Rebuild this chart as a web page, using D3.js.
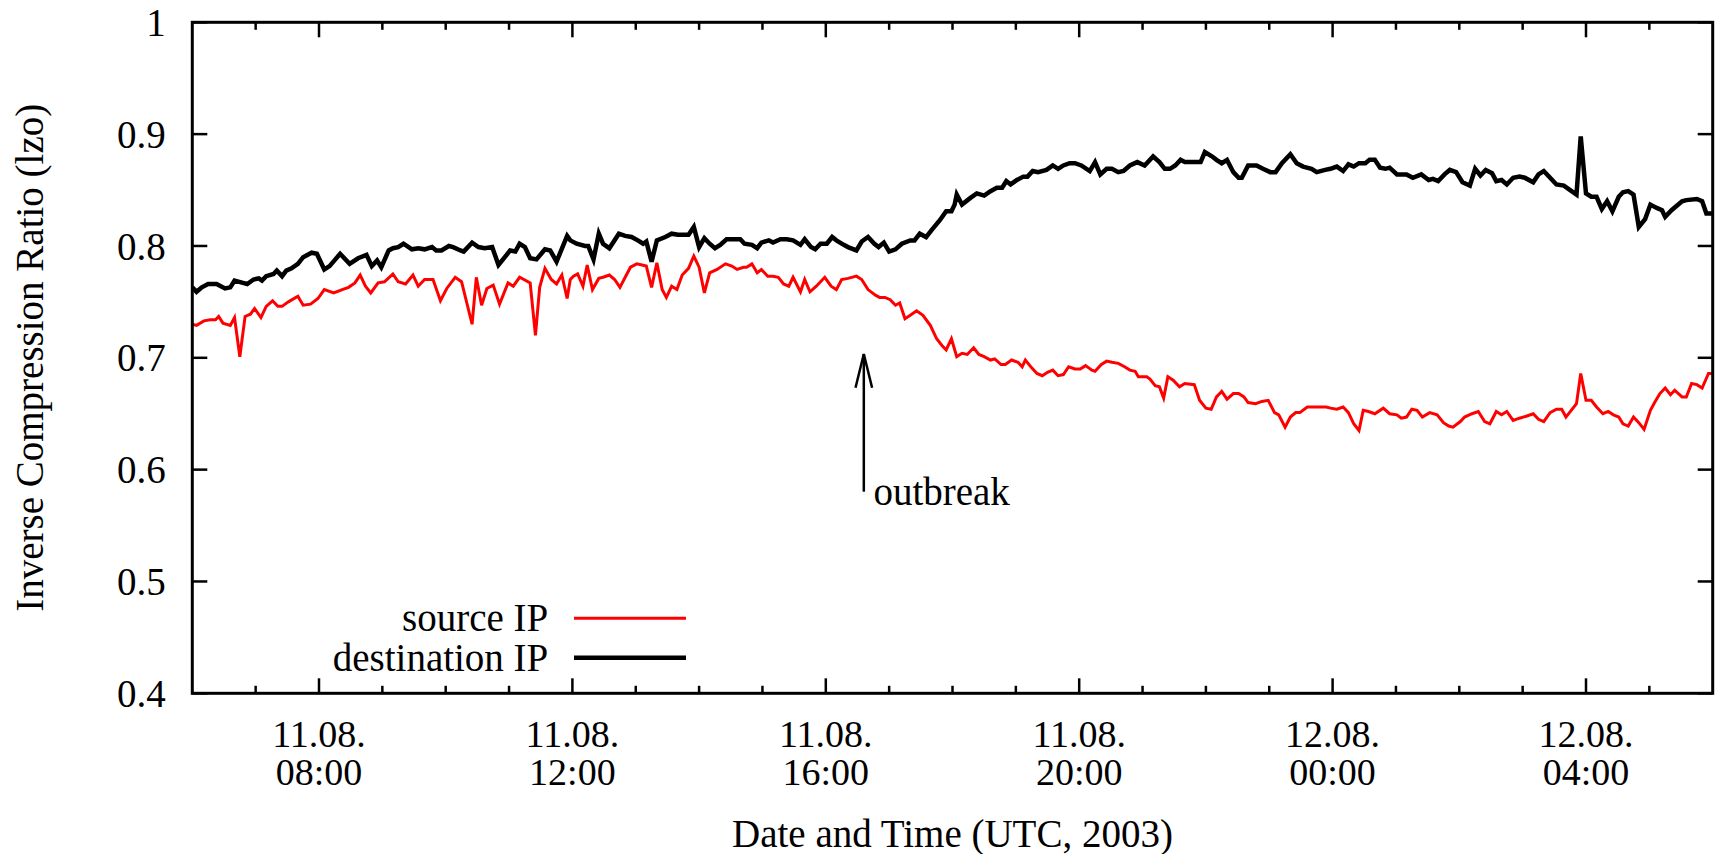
<!DOCTYPE html>
<html>
<head>
<meta charset="utf-8">
<script src="https://cdn.jsdelivr.net/npm/d3@7"></script>
<style>
  body { margin: 0; background: #fff; }
  text { font-family: "Liberation Serif", "Times New Roman", serif; fill: #000; }
</style>
</head>
<body>
<script>
// time axis: minutes after 11.08.2003 06:00 UTC
const startTime = Date.UTC(2003, 7, 11, 6, 0);
const endTime = Date.UTC(2003, 7, 12, 6, 0);

const yTicks = [0.4, 0.5, 0.6, 0.7, 0.8, 0.9, 1];
const seriesNames = ["source IP", "destination IP"];
const seriesColors = ["#ff0000", "#000000"];

const outbreakMin = 636;
const outbreakLabel = "outbreak";

const srcMin = [0,4,11,17,22,25,29,36,40,45,50,55,59,65,70,76,81,85,91,100,105,112,119,125,134,142,148,154,159,164,169,176,182,190,195,202,209,214,220,228,235,241,249,255,265,269,274,279,285,291,299,304,310,320,325,329,334,340,345,350,355,358,361,365,370,374,379,385,389,395,400,405,410,415,421,426,430,435,440,445,449,454,459,464,470,475,480,485,490,497,505,511,516,522,525,530,535,539,545,550,555,560,565,569,576,580,585,591,599,605,610,615,621,629,634,640,647,651,656,661,666,670,675,680,686,692,699,705,710,714,719,724,729,734,740,745,750,756,760,766,770,776,782,786,789,795,800,805,810,815,820,825,830,836,841,846,852,855,861,866,871,877,883,888,893,896,904,907,912,916,920,924,929,935,940,949,954,960,965,970,975,980,986,991,996,1000,1007,1013,1019,1025,1029,1035,1040,1045,1049,1056,1063,1070,1074,1078,1084,1090,1095,1100,1105,1109,1114,1120,1128,1134,1141,1145,1150,1155,1160,1165,1172,1179,1185,1190,1194,1201,1205,1212,1218,1224,1229,1235,1240,1245,1251,1257,1264,1270,1275,1280,1286,1292,1297,1301,1306,1311,1315,1320,1325,1330,1336,1341,1346,1351,1355,1360,1365,1370,1375,1381,1385,1390,1395,1400,1404,1411,1415,1420,1425,1430,1436,1440];
const srcVal = [.730,.729,.733,.734,.734,.737,.731,.729,.736,.701,.737,.739,.744,.736,.746,.751,.746,.746,.750,.755,.747,.748,.753,.761,.758,.761,.763,.767,.774,.764,.758,.767,.768,.775,.768,.766,.774,.764,.770,.770,.751,.762,.772,.768,.730,.772,.747,.762,.765,.748,.767,.764,.772,.767,.720,.763,.780,.770,.766,.774,.753,.770,.773,.775,.764,.783,.761,.771,.772,.774,.770,.763,.772,.781,.784,.783,.782,.763,.785,.761,.754,.764,.761,.774,.780,.791,.781,.758,.776,.779,.784,.782,.779,.781,.781,.784,.776,.779,.773,.773,.772,.766,.764,.772,.759,.770,.759,.764,.772,.764,.761,.770,.771,.773,.770,.761,.756,.754,.754,.752,.747,.749,.735,.738,.742,.738,.729,.717,.711,.707,.717,.701,.704,.703,.709,.703,.701,.698,.699,.694,.694,.698,.696,.692,.698,.691,.686,.684,.687,.689,.684,.685,.692,.690,.690,.693,.689,.688,.694,.697,.696,.695,.692,.689,.688,.683,.683,.681,.675,.674,.664,.683,.680,.674,.677,.676,.662,.655,.654,.665,.670,.663,.668,.668,.665,.660,.659,.661,.662,.651,.649,.638,.647,.651,.651,.656,.656,.656,.656,.655,.654,.656,.651,.641,.635,.653,.652,.650,.655,.650,.649,.646,.647,.654,.653,.647,.651,.649,.642,.639,.638,.643,.647,.650,.652,.643,.641,.652,.649,.652,.644,.646,.648,.650,.645,.643,.651,.654,.654,.647,.653,.659,.686,.662,.662,.656,.650,.652,.649,.647,.641,.639,.647,.642,.636,.653,.660,.668,.673,.667,.671,.665,.665,.677,.676,.673,.686,.686];

const dstMin = [0,4,9,15,23,31,36,40,48,52,58,63,66,70,77,80,85,89,94,100,105,113,118,125,130,140,149,157,165,170,175,179,186,190,195,200,208,214,220,227,231,236,243,247,254,257,265,271,277,284,290,296,301,306,310,315,320,326,334,339,345,355,358,364,372,375,380,385,389,395,404,410,416,422,427,430,435,440,448,454,460,470,475,480,485,490,495,500,506,512,519,523,530,535,539,546,550,557,563,569,576,580,586,590,595,601,606,610,617,621,629,634,640,646,650,655,660,666,672,680,684,689,695,700,708,714,719,722,724,729,737,743,750,756,762,767,771,775,781,787,791,796,801,809,815,820,825,831,836,842,850,855,860,866,871,877,882,888,895,902,910,916,921,926,931,936,940,948,955,959,966,970,975,980,986,991,994,1000,1008,1014,1021,1026,1032,1040,1046,1052,1060,1065,1073,1078,1084,1090,1095,1100,1105,1111,1115,1120,1125,1130,1134,1141,1150,1156,1164,1171,1175,1180,1186,1191,1197,1203,1210,1215,1220,1225,1231,1235,1240,1245,1251,1257,1262,1270,1275,1280,1286,1292,1299,1305,1311,1315,1320,1325,1330,1335,1340,1345,1351,1355,1360,1365,1370,1376,1381,1387,1392,1395,1401,1411,1415,1425,1430,1434,1440];
const dstVal = [.763,.759,.763,.766,.766,.762,.763,.769,.767,.766,.770,.771,.769,.773,.775,.778,.773,.778,.780,.784,.790,.794,.793,.779,.782,.793,.784,.789,.792,.782,.787,.781,.796,.798,.799,.802,.797,.798,.797,.799,.796,.796,.800,.799,.796,.795,.803,.799,.798,.799,.783,.790,.796,.795,.802,.799,.789,.788,.797,.796,.786,.809,.805,.802,.800,.800,.788,.811,.802,.798,.811,.809,.808,.805,.802,.804,.786,.805,.808,.811,.810,.810,.817,.799,.807,.802,.798,.801,.806,.806,.806,.802,.801,.798,.803,.805,.803,.806,.806,.805,.801,.806,.799,.797,.802,.802,.808,.805,.801,.799,.796,.804,.808,.802,.799,.803,.795,.797,.802,.805,.805,.811,.808,.814,.823,.831,.831,.837,.846,.837,.843,.847,.845,.849,.852,.852,.858,.855,.859,.862,.862,.867,.866,.868,.872,.869,.872,.874,.874,.872,.867,.875,.864,.869,.869,.866,.867,.872,.875,.872,.880,.875,.869,.869,.872,.877,.875,.875,.875,.884,.880,.877,.874,.877,.866,.861,.861,.872,.872,.869,.866,.866,.874,.882,.874,.871,.869,.866,.868,.869,.871,.867,.873,.871,.874,.874,.877,.877,.870,.869,.870,.864,.864,.861,.864,.859,.860,.858,.864,.868,.866,.857,.854,.869,.863,.868,.865,.858,.859,.855,.861,.862,.861,.857,.864,.867,.861,.855,.854,.850,.846,.898,.847,.844,.844,.833,.840,.831,.844,.848,.849,.846,.817,.824,.837,.834,.832,.826,.832,.840,.841,.842,.840,.829,.829];

const W = 1715, H = 854;
const margin = { top: 22.3, right: 2.3, bottom: 160.7, left: 192.3 };
const fontSize = 39;
const tickFontSize = 38;

const svg = d3.select("body").append("svg")
  .attr("width", W)
  .attr("height", H);

const x = d3.scaleUtc()
  .domain([new Date(startTime), new Date(endTime)])
  .range([margin.left, W - margin.right]);

const y = d3.scaleLinear()
  .domain([0.4, 1])
  .range([H - margin.bottom, margin.top]);

const toDate = m => new Date(startTime + m * 60000);

const majorX = d3.utcHour.every(4).range(new Date(startTime), new Date(endTime));
const minorX = d3.utcHour.range(new Date(startTime + 1), new Date(endTime));

// ticks (mirrored like gnuplot)
const bottomY = y(0.4), topY = y(1);
const leftX = x.range()[0], rightX = x.range()[1];
const tickG = svg.append("g").attr("stroke", "#000").attr("stroke-width", 2.5);

minorX.forEach(d => {
  const len = majorX.some(m => +m === +d) ? 15 : 7.5;
  tickG.append("line").attr("x1", x(d)).attr("x2", x(d)).attr("y1", bottomY).attr("y2", bottomY - len);
  tickG.append("line").attr("x1", x(d)).attr("x2", x(d)).attr("y1", topY).attr("y2", topY + len);
});
yTicks.forEach(v => {
  tickG.append("line").attr("x1", leftX).attr("x2", leftX + 15).attr("y1", y(v)).attr("y2", y(v));
  tickG.append("line").attr("x1", rightX).attr("x2", rightX - 15).attr("y1", y(v)).attr("y2", y(v));
});

// tick labels
svg.append("g").selectAll("text").data(yTicks).join("text")
  .attr("x", leftX - 26.6)
  .attr("y", d => y(d))
  .attr("dy", "0.35em")
  .attr("text-anchor", "end")
  .attr("font-size", fontSize)
  .text(d => d === 1 ? "1" : d.toFixed(1));

const fmtDay = d3.utcFormat("%d.%m.");
const fmtTime = d3.utcFormat("%H:%M");
const xLab = svg.append("g")
  .attr("text-anchor", "middle")
  .attr("font-size", tickFontSize);
xLab.selectAll("text.day").data(majorX).join("text")
  .attr("class", "day")
  .attr("x", d => x(d)).attr("y", bottomY + 53.4)
  .text(d => fmtDay(d));
xLab.selectAll("text.time").data(majorX).join("text")
  .attr("class", "time")
  .attr("x", d => x(d)).attr("y", bottomY + 91.7)
  .text(d => fmtTime(d));

// axis titles
svg.append("text")
  .attr("x", (leftX + rightX) / 2)
  .attr("y", 847)
  .attr("text-anchor", "middle")
  .attr("font-size", fontSize)
  .text("Date and Time (UTC, 2003)");

svg.append("text")
  .attr("transform", `translate(43,${(topY + bottomY) / 2}) rotate(-90)`)
  .attr("text-anchor", "middle")
  .attr("font-size", fontSize)
  .text("Inverse Compression Ratio (lzo)");

// data lines
svg.append("clipPath").attr("id", "plot")
  .append("rect")
  .attr("x", leftX).attr("y", topY)
  .attr("width", rightX - leftX).attr("height", bottomY - topY);

const line = d3.line().x(d => x(toDate(d[0]))).y(d => y(d[1]));
const series = [
  { pts: d3.zip(srcMin, srcVal), color: seriesColors[0], width: 3 },
  { pts: d3.zip(dstMin, dstVal), color: seriesColors[1], width: 4.5 }
];
svg.append("g").attr("clip-path", "url(#plot)")
  .selectAll("path").data(series).join("path")
  .attr("fill", "none")
  .attr("stroke", d => d.color)
  .attr("stroke-width", d => d.width)
  .attr("stroke-linejoin", "miter")
  .attr("d", d => line(d.pts));

// border
svg.append("rect")
  .attr("x", leftX).attr("y", topY)
  .attr("width", rightX - leftX).attr("height", bottomY - topY)
  .attr("fill", "none")
  .attr("stroke", "#000")
  .attr("stroke-width", 3);

// outbreak arrow
const ax = x(toDate(outbreakMin));
const a0 = y(0.5803), a1 = y(0.7034);
const arrow = svg.append("g").attr("stroke", "#000").attr("stroke-width", 2.5).attr("fill", "none");
arrow.append("line").attr("x1", ax).attr("x2", ax).attr("y1", a0).attr("y2", a1);
arrow.append("path").attr("d", `M${ax - 8.3},${a1 + 33.7}L${ax},${a1}L${ax + 8.3},${a1 + 33.7}`);
svg.append("text")
  .attr("x", ax + 9.6)
  .attr("y", a0 + 13.3)
  .attr("font-size", fontSize)
  .text(outbreakLabel);

// legend
const legend = svg.append("g");
seriesNames.forEach((name, i) => {
  const ly = 618.3 + i * 39.4;
  legend.append("text")
    .attr("x", 548.3)
    .attr("y", ly)
    .attr("dy", "0.33em")
    .attr("text-anchor", "end")
    .attr("font-size", fontSize)
    .text(name);
  legend.append("line")
    .attr("x1", 574).attr("x2", 686)
    .attr("y1", ly).attr("y2", ly)
    .attr("stroke", seriesColors[i])
    .attr("stroke-width", series[i].width);
});
</script>
</body>
</html>
